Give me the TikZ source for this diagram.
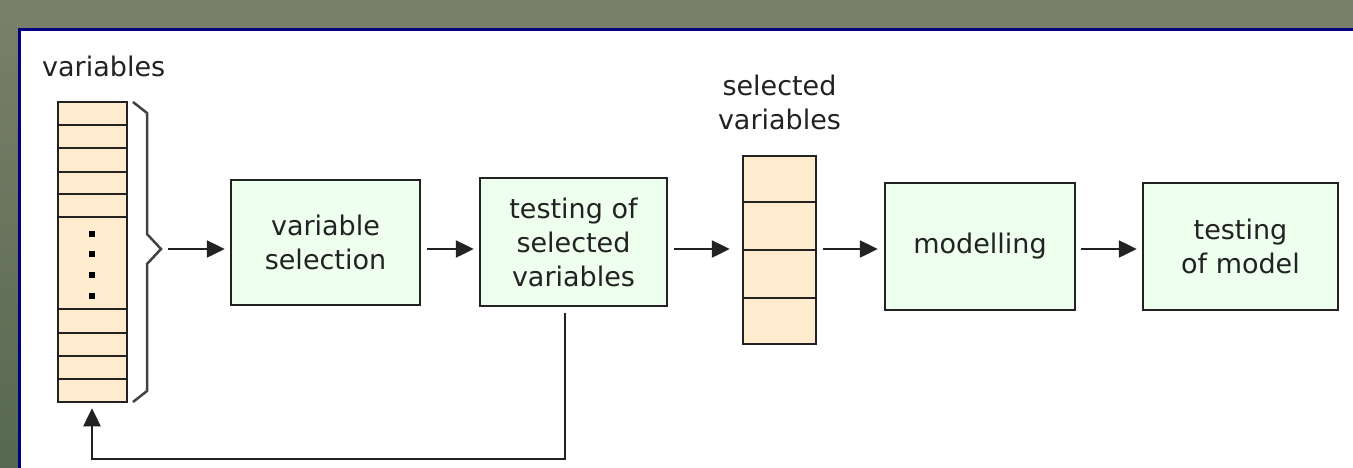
\documentclass[tikz,border=0pt]{standalone}
\usepackage{fontspec}
\setmainfont{DejaVu Sans}
\usetikzlibrary{arrows.meta,calc}
\definecolor{bgtop}{HTML}{7B806A}
\definecolor{bgbot}{HTML}{566850}
\definecolor{panelblue}{HTML}{000080}
\definecolor{boxgreen}{HTML}{EEFFEE}
\definecolor{peach}{HTML}{FFECCE}
\definecolor{ink}{HTML}{222222}
\tikzset{
  procbox/.style={draw=ink, line width=2.5pt, fill=boxgreen, align=center, inner sep=0pt,
    font=\fontsize{27}{34}\selectfont, text=ink},
  colbox/.style={draw=ink, line width=2.5pt, fill=peach, inner sep=0pt},
  rowline/.style={draw=ink, line width=2.5pt},
  flow/.style={draw=ink, line width=2.5pt, -{Triangle[length=18pt,width=17pt]}},
  lbl/.style={font=\fontsize{27}{34}\selectfont, text=ink, align=center, inner sep=0pt}
}
\begin{document}
\begin{tikzpicture}[x=1pt,y=-1pt]
\useasboundingbox (0,0) rectangle (1353,467);
\shade[top color=bgtop, bottom color=bgbot] (-5,-5) rectangle (1360,475);
\fill[white] (19,29) rectangle (1360,475);
\draw[panelblue, line width=2.5pt] (19.5,475) -- (19.5,29.5) -- (1360,29.5);

% left variables column
\node[lbl, anchor=west] (lvar) at (42,66) {variables};
\node[colbox, minimum width=69pt, minimum height=300pt] (col1) at (92.5,252) {};
\foreach \yy in {125,148,172,194,217,309,333,356,379}
  \draw[rowline] (col1.west |- 0,\yy) -- (col1.east |- 0,\yy);
\foreach \yy in {234,254,275,296}
  \fill[black] (89,\yy-3) rectangle (95,\yy+3);

% brace
\coordinate (btip) at (161,249);
\draw[ink!85, line width=2.5pt, line join=miter] (133,102) -- (147,113) -- (147,234) -- (btip) -- (147,264) -- (147,391) -- (133,402);

% boxes
\node[procbox, minimum width=189pt, minimum height=125pt] (b1) at (325.5,242.5) {variable\\selection};
\node[procbox, minimum width=187pt, minimum height=128pt] (b2) at (573.5,242) {testing of\\selected\\variables};
\node[colbox, minimum width=73pt, minimum height=188pt] (col2) at (779.5,250) {};
\foreach \yy in {202,250,298}
  \draw[rowline] (col2.west |- 0,\yy) -- (col2.east |- 0,\yy);
\node[lbl] (svar) at (779.5,102) {selected\\variables};
\node[procbox, minimum width=190pt, minimum height=127pt] (b3) at (980,246.5) {modelling};
\node[procbox, minimum width=195pt, minimum height=127pt] (b4) at (1240.5,246.5) {testing\\of model};

% flow arrows
\coordinate (axis) at (0,249);
\draw[flow, shorten <=7pt, shorten >=5pt] (btip) -- (b1.west |- axis);
\draw[flow, shorten <=6pt, shorten >=5pt] (b1.east |- axis) -- (b2.west |- axis);
\draw[flow, shorten <=6pt, shorten >=12pt] (b2.east |- axis) -- (col2.west |- axis);
\draw[flow, shorten <=6pt, shorten >=6pt] (col2.east |- axis) -- (b3.west |- axis);
\draw[flow, shorten <=5pt, shorten >=5pt] (b3.east |- axis) -- (b4.west |- axis);

% feedback
\coordinate (fb) at (565,459);
\coordinate (fc) at (92,459);
\draw[flow, shorten <=6pt, shorten >=5pt, line join=miter] (b2.south -| fb) -- (fb) -- (fc) -- (col1.south -| fc);
\end{tikzpicture}
\end{document}
